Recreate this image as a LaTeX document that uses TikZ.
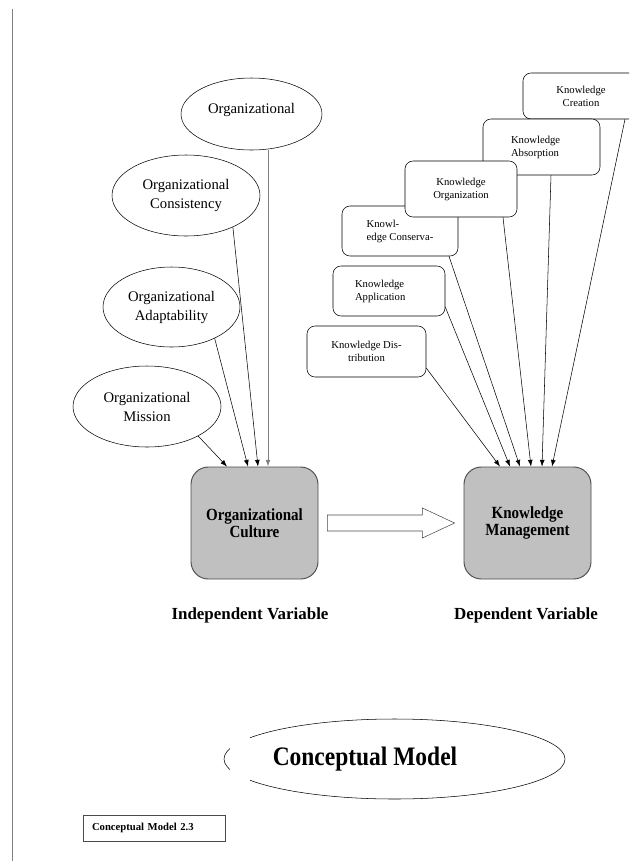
\documentclass[tikz,border=0pt]{standalone}
\usepackage{fontspec}
\setmainfont{Liberation Serif}
\newfontfamily\narrowserif[FakeStretch=0.88]{Liberation Serif}
\usepackage{tikz}
\usetikzlibrary{calc,positioning,shapes.geometric,arrows.meta}
\definecolor{boxgray}{HTML}{C0C0C0}
\definecolor{edgegray}{HTML}{4A4A4A}
\definecolor{rulegray}{HTML}{808080}
\tikzset{
  orgellipse/.style={ellipse, draw, thin, fill=white, inner sep=0pt, align=center,
    font=\fontsize{11}{14.25}\selectfont},
  knowbox/.style={rectangle, rounded corners=6pt, draw, thin, fill=white, inner sep=2pt,
    align=center, font=\fontsize{8}{9.75}\selectfont},
  varbox/.style={rectangle, rounded corners=13pt, draw=edgegray, line width=0.7pt, fill=boxgray,
    minimum width=95.25pt, minimum height=84pt, align=center,
    font=\narrowserif\bfseries\fontsize{12.8}{12.75}\selectfont},
  varlabel/.style={font=\bfseries\fontsize{12.7}{15}\selectfont},
  feed/.style={-{Latex[length=5pt,width=3.6pt]}, thin},
}

\begin{document}
\begin{tikzpicture}[x=0.75pt,y=-0.75pt]
  \useasboundingbox (0,0) rectangle (629,861);
  \clip (0,0) rectangle (629,861);
  \draw[rulegray, line width=0.8pt] (12.5,9) -- (12.5,861);

  % culture dimensions
  \node[orgellipse, minimum width=105.75pt, minimum height=54pt, text depth=9pt] (orgtop) at (251.5,114) {Organizational};
  \node[orgellipse, minimum width=111pt, minimum height=60.75pt] (orgcons) at (186,195.5) {Organizational\\Consistency};
  \node[orgellipse, minimum width=102.75pt, minimum height=60pt] (orgadapt) at (171.5,307) {Organizational\\Adaptability};
  \node[orgellipse, minimum width=111pt, minimum height=60.75pt] (orgmission) at (147,406.5) {Organizational\\Mission};

  \node[varbox] (oc) at (254.5,523) {Organizational\\Culture};
  \node[varbox] (km) at (527.5,523) {Knowledge\\Management};

  \coordinate (octop) at ($(oc.north)+(13.5,0)$);
  \draw[feed] (orgmission.-30) -- ($(oc.north)+(-27.5,0)$);
  \draw[feed] (orgadapt.-36) -- ($(oc.north)+(-6.5,0)$);
  \draw[feed] (orgcons.-34) -- ($(oc.north)+(3.5,0)$);
  \draw[feed, draw=rulegray, line width=0.7pt] (orgtop.south -| octop) -- (octop);

  % knowledge dimensions
  \node[knowbox, minimum width=87pt, minimum height=34.5pt] (kcreation) at (581,96) {Knowledge\\Creation};
  \node[knowbox, minimum width=87.75pt, minimum height=42pt, align=left, inner xsep=21pt, text width=45.75pt] (kabsorption) at (541.5,147) {Knowledge\\Absorption};
  \node[knowbox, minimum width=87pt, minimum height=37.5pt, align=left] (kconservation) at (400,231) {Knowl-\\edge Conserva-};
  \node[knowbox, minimum width=84pt, minimum height=42pt] (korganization) at (461,189) {Knowledge\\Organization};
  \node[knowbox, minimum width=84pt, minimum height=37.5pt, align=left, inner xsep=16.5pt, text width=51pt] (kapplication) at (389,291) {Knowledge\\Application};
  \node[knowbox, minimum width=89.25pt, minimum height=38.25pt] (kdistribution) at (366.5,351.5) {Knowledge Dis-\\tribution};

  \draw[feed] ($(kdistribution.east)+(0,16.5)$) -- ($(km.north)+(-27.5,0)$);
  \draw[feed] ($(kapplication.east)+(0,16)$) -- ($(km.north)+(-17.5,0)$);
  \draw[feed] ($(kconservation.south)+(49,0)$) -- ($(km.north)+(-7.5,0)$);
  \draw[feed] ($(korganization.south)+(42,0)$) -- ($(km.north)+(3.5,0)$);
  \draw[feed] ($(kabsorption.south)+(9.5,0)$) -- ($(km.north)+(14.5,0)$);
  \draw[feed] ($(kcreation.south)+(44,0)$) -- ($(km.north)+(24.5,0)$);

  % hollow arrow
  \draw[edgegray, fill=white] ($(oc.east)+(9,-8)$) -- ($(oc.east)+(104,-8)$) -- ($(oc.east)+(104,-15)$)
    -- ($(km.west)+(-9,0)$) -- ($(oc.east)+(104,15)$) -- ($(oc.east)+(104,8)$) -- ($(oc.east)+(9,8)$) -- cycle;

  \node[varlabel] (indeplabel) at (250,615) {Independent Variable};
  \node[varlabel] (deplabel) at (526,615) {Dependent Variable};

  % title and caption
  \node[ellipse, draw, thin, minimum width=255.75pt, minimum height=60pt] (cmellipse) at (394.5,759) {};
  \fill[white] (230,715) rectangle (250,805);
  \node[font=\narrowserif\bfseries\fontsize{20}{24}\selectfont] (cmtitle) at (365,759) {Conceptual Model};
  \node[draw=edgegray, rectangle, inner xsep=6.75pt, text width=93pt, align=left, minimum height=19.5pt,
    font=\bfseries\fontsize{8}{9.5}\selectfont] (cmcaption) at (154,828) {Conceptual Model 2.3};
\end{tikzpicture}
\end{document}
